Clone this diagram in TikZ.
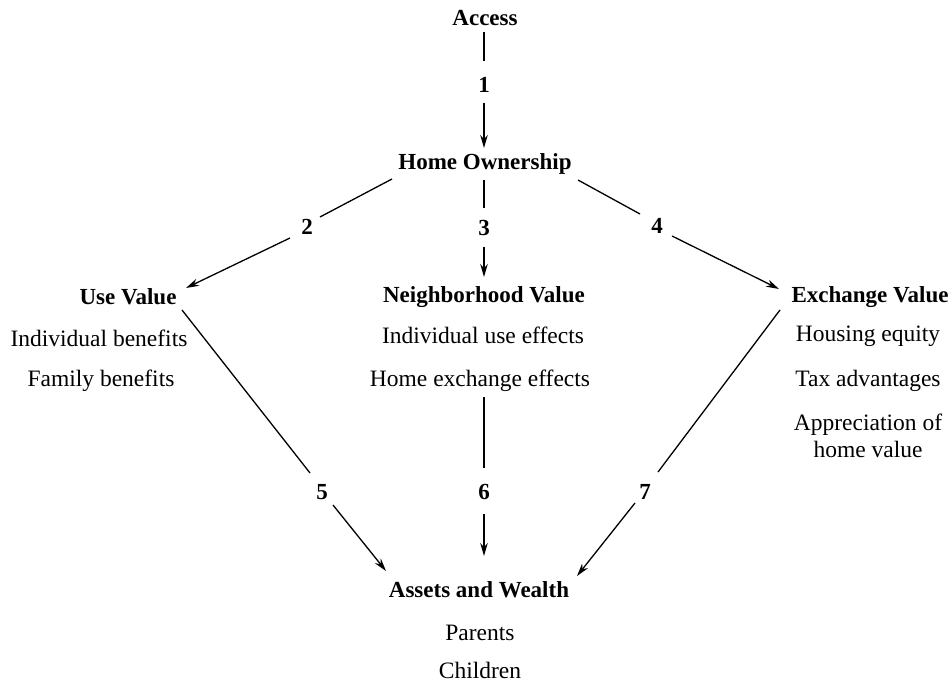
\documentclass[tikz,border=0pt]{standalone}
\usepackage{fontspec}
\setmainfont{Liberation Serif}
\usetikzlibrary{arrows.meta}
\begin{document}
\begin{tikzpicture}[x=1pt,y=-1pt,
  txt/.style={inner sep=0pt,font=\fontsize{23.5}{27}\selectfont},
  hd/.style={inner sep=0pt,font=\fontsize{23}{27}\selectfont\bfseries},
  num/.style={inner sep=0pt,font=\fontsize{23}{27}\selectfont\bfseries},
  ln/.style={line width=1.3pt},
  arr/.style={line width=1.3pt,-{Stealth[length=13pt,width=7.5pt]}}]
\useasboundingbox (0,0) rectangle (951,684);
% headings
\node[hd] (access) at (485,18) {Access};
\node[hd] (home) at (485,164) {Home Ownership};
\node[hd] (uv) at (128,297) {Use Value};
\node[hd] (nv) at (484,297) {Neighborhood Value};
\node[hd] (ev) at (870,297) {Exchange Value};
\node[hd] (aw) at (479,590) {Assets and Wealth};
% items
\node[txt] (uv1) at (99,338) {Individual benefits};
\node[txt] (uv2) at (101,381) {Family benefits};
\node[txt] (nv1) at (483,335) {Individual use effects};
\node[txt] (nv2) at (480,381) {Home exchange effects};
\node[txt] (ev1) at (868,336) {Housing equity};
\node[txt] (ev2) at (868,381) {Tax advantages};
\node[txt,align=center] (ev3) at (868,436) {Appreciation of\\home value};
\node[txt] (aw1) at (480,633) {Parents};
\node[txt] (aw2) at (480,670) {Children};
% numbers
\node[num] (n1) at (484,85) {1};
\node[num] (n2) at (307,227) {2};
\node[num] (n3) at (484,228) {3};
\node[num] (n4) at (657,226) {4};
\node[num] (n5) at (322,492) {5};
\node[num] (n6) at (484,492) {6};
\node[num] (n7) at (645,492) {7};
% connector end points
\coordinate (a1s) at (484,32);  \coordinate (a1e) at (484,61);
\coordinate (b1s) at (484,103); \coordinate (b1e) at (484,148);
\coordinate (a2s) at (392,179); \coordinate (a2e) at (320,217);
\coordinate (b2s) at (290,238); \coordinate (b2e) at (186,288);
\coordinate (a3s) at (484,180); \coordinate (a3e) at (484,208);
\coordinate (b3s) at (484,247); \coordinate (b3e) at (484,277);
\coordinate (a4s) at (578,180); \coordinate (a4e) at (640,214);
\coordinate (b4s) at (672,236); \coordinate (b4e) at (779,289);
\coordinate (a5s) at (182,310); \coordinate (a5e) at (310,473);
\coordinate (b5s) at (333,505); \coordinate (b5e) at (386,571);
\coordinate (a6s) at (484,397); \coordinate (a6e) at (484,468);
\coordinate (b6s) at (484,514); \coordinate (b6e) at (484,556);
\coordinate (a7s) at (780,310); \coordinate (a7e) at (658,472);
\coordinate (b7s) at (635,503); \coordinate (b7e) at (577,576);
% connectors
\foreach \i in {1,...,7}{
  \draw[ln] (a\i s) -- (a\i e);
  \draw[arr] (b\i s) -- (b\i e);
}
\end{tikzpicture}
\end{document}
